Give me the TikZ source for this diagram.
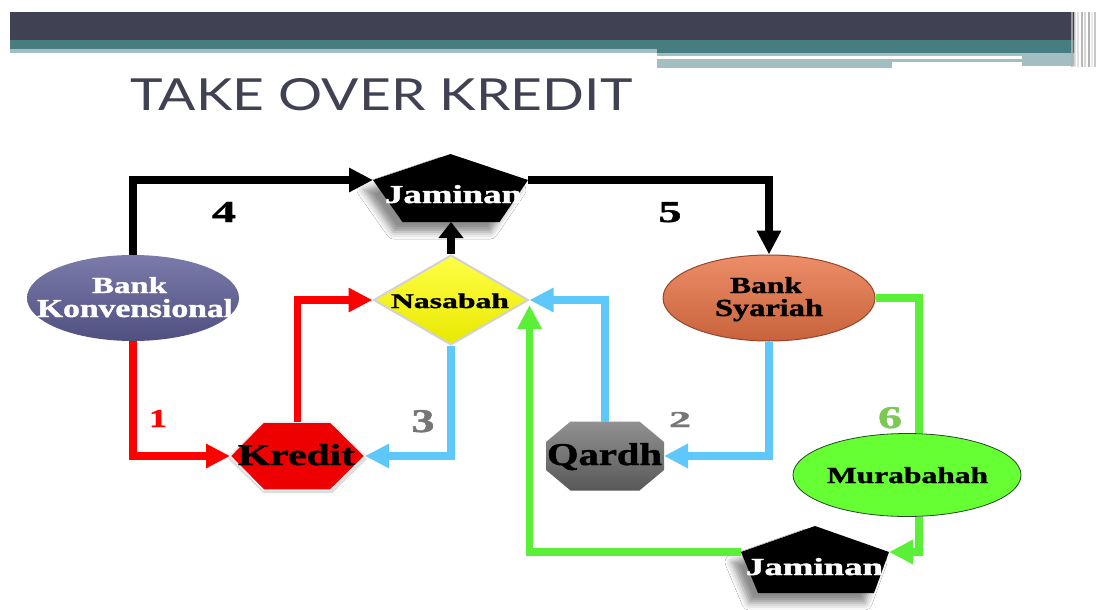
\documentclass[tikz,border=0pt]{standalone}
\usepackage{fontspec}
\setmainfont{Liberation Serif}
\newfontfamily\titlefont{Lato}
\newfontfamily\heavyserif{Liberation Serif Bold}[FakeBold=1.2]
\usetikzlibrary{arrows.meta,shapes.geometric,backgrounds,shadows.blur}
\definecolor{hdark}{RGB}{65,65,84}
\definecolor{hteal}{RGB}{70,125,128}
\definecolor{hlight}{RGB}{162,190,195}
\definecolor{bkTop}{RGB}{122,122,172}
\definecolor{bkBot}{RGB}{80,80,128}
\definecolor{bsTop}{RGB}{236,142,104}
\definecolor{bsBot}{RGB}{200,98,60}
\definecolor{bsEdge}{RGB}{150,70,40}
\definecolor{nasTop}{RGB}{255,255,70}
\definecolor{nasBot}{RGB}{232,232,0}
\definecolor{krRed}{RGB}{238,0,0}
\definecolor{qdTop}{RGB}{145,145,145}
\definecolor{qdBot}{RGB}{88,88,88}
\definecolor{murGreen}{RGB}{102,255,51}
\definecolor{murEdge}{RGB}{40,70,40}
\definecolor{lnRed}{RGB}{255,0,0}
\definecolor{lnBlue}{RGB}{95,200,250}
\definecolor{lnGreen}{RGB}{90,240,55}
\definecolor{numGray}{RGB}{118,118,118}
\definecolor{numGreen}{RGB}{125,200,85}
% word set in heavy serif, stretched to a given width and height
\newcommand\fitword[3]{\resizebox{#1pt}{#2pt}{\heavyserif #3}}
\begin{document}
\begin{tikzpicture}[x=1pt,y=-1pt,
  conn/.style={line width=7.5pt},
  tipbig/.style={-{Triangle[length=24pt,width=23pt]}},
  tipsmall/.style={-{Triangle[length=16pt,width=24pt]}},
  boxnode/.style={rectangle,inner sep=0pt,outer sep=0pt},
  txt/.style={inner sep=0pt,outer sep=0pt,anchor=base},
  pshadow/.style={blur shadow={shadow xshift=-9pt,shadow yshift=-10pt,shadow blur radius=7pt,shadow opacity=45}}]
\useasboundingbox (0,0) rectangle (1097,610);

% ---------- header ----------
\fill[hdark] (10,12) rectangle (1075,40);
\fill[hteal] (10,40) rectangle (1075,49);
\fill[hlight] (10,49) rectangle (657,53);
\fill[hteal] (657,49) rectangle (1075,53);
\fill[hlight] (657,53) rectangle (1075,66);
\fill[white] (657,56) rectangle (1022,59);
\fill[hlight] (657,59) rectangle (892,68);
\fill[white] (892,62) rectangle (1022,68);
\foreach \xx/\ww/\cc in {1072/2/gray!60,1075/1.5/gray!30,1078/2/white!70!gray,1082/1.5/gray!70,1085/2.5/gray!40,1089/1.5/gray!75,1092/2/white!80!gray,1095/1.5/gray!55}
  \draw[line width=\ww pt,\cc,opacity=0.8] (\xx,12) -- (\xx,67);

% ---------- title ----------
\node[anchor=base west,inner sep=0pt,text=hdark] (title) at (130,110)
  {\resizebox{502pt}{32pt}{\titlefont TAKE OVER KREDIT}};

% ---------- node shapes ----------
\node[ellipse,minimum width=212pt,minimum height=86pt,inner sep=0pt,
      top color=bkTop,bottom color=bkBot,draw=none] (bk) at (133,298) {};
\node[diamond,minimum width=155pt,minimum height=90pt,aspect=1.7,inner sep=0pt,
      top color=nasTop,bottom color=nasBot,draw=gray!35,line width=2pt] (nas) at (451,300) {};
\node[ellipse,minimum width=212pt,minimum height=86pt,inner sep=0pt,
      top color=bsTop,bottom color=bsBot,draw=bsEdge,line width=1pt] (bs) at (769,298) {};
\node[boxnode,minimum width=135pt,minimum height=68pt] (kr) at (297.5,456) {};
\node[boxnode,minimum width=118pt,minimum height=69pt] (qd) at (605,456) {};
\node[ellipse,minimum width=228pt,minimum height=83pt,inner sep=0pt,
      fill=murGreen,draw=murEdge,line width=0.8pt] (mur) at (907,475) {};
\node[boxnode,minimum width=155pt,minimum height=68pt] (jamA) at (450.5,188) {};
\node[boxnode,minimum width=148pt,minimum height=67pt] (jamB) at (815,559.5) {};

% ---------- shapes drawn behind ----------
\begin{scope}[on background layer]
  \fill[white] (0,0) rectangle (1097,610);
  \fill[black,pshadow] (jamA.north) -- ([yshift=8pt]jamA.east) -- ([xshift=49pt]jamA.south)
     -- ([xshift=-48pt]jamA.south) -- ([yshift=8pt]jamA.west) -- cycle;
  \fill[black,pshadow] (jamB.north) -- ([yshift=7.5pt]jamB.east) -- ([xshift=59pt]jamB.south)
     -- ([xshift=-57pt]jamB.south) -- ([yshift=7.5pt]jamB.west) -- cycle;
  \fill[gray!50,opacity=0.5] ([xshift=-2pt,yshift=-3pt]kr.west) -- ([xshift=-34pt,yshift=-3pt]kr.north)
     -- ([xshift=35pt,yshift=-3pt]kr.north) -- ([xshift=2pt,yshift=-3pt]kr.east)
     -- ([xshift=35pt,yshift=-3pt]kr.south) -- ([xshift=-34pt,yshift=-3pt]kr.south) -- cycle;
  \filldraw[fill=krRed,draw=gray!15,line width=1.5pt] (kr.west) -- ([xshift=-34pt]kr.north)
     -- ([xshift=33pt]kr.north) -- (kr.east) -- ([xshift=33pt]kr.south)
     -- ([xshift=-34pt]kr.south) -- cycle;
  \shade[top color=qdTop,bottom color=qdBot] ([xshift=-34.5pt]qd.north) -- ([xshift=34.5pt]qd.north)
     -- ([yshift=14pt]qd.east) -- ([yshift=-14pt]qd.east) -- ([xshift=34.5pt]qd.south)
     -- ([xshift=-34.5pt]qd.south) -- ([yshift=-14pt]qd.west) -- ([yshift=14pt]qd.west) -- cycle;
\end{scope}

% ---------- texts ----------
\node[txt,text=white] (bkA) at (129.5,293) {\fitword{75}{16}{Bank}};
\node[txt,text=white] (bkB) at (135,317) {\fitword{196}{18}{Konvensional}};
\node[txt] (nasT) at (450,308) {\fitword{118}{14.5}{Nasabah}};
\node[txt] (bsA) at (766,293) {\fitword{72}{16}{Bank}};
\node[txt] (bsB) at (769,316) {\fitword{108}{17}{Syariah}};
\node[txt] (krT) at (296.5,465) {\fitword{117}{21}{Kredit}};
\node[txt] (qdT) at (604.5,465) {\fitword{115}{22}{Qardh}};
\node[txt] (murT) at (907.5,483) {\fitword{161}{16}{Murabahah}};
\node[txt,text=white] (jamAT) at (453.5,203) {\fitword{137}{18}{Jaminan}};
\node[txt,text=white] (jamBT) at (814.5,575) {\fitword{137}{17}{Jaminan}};

% ---------- connectors ----------
\draw[conn,lnRed,tipbig] (bk.south) |- (kr.west);
\draw[conn,lnRed,tipbig] (kr.north) |- (nas.west);
\draw[conn,lnBlue,tipbig] (nas.south) |- (kr.east);
\draw[conn,black,tipbig] (bk.north) |- ([yshift=8pt]jamA.west);
\draw[conn,black,tipsmall] (nas.north) -- (nas.north |- jamA.south);
\draw[conn,black,tipbig] ([yshift=8pt]jamA.east) -| (bs.north);
\draw[conn,lnBlue,tipbig] (bs.south) |- (qd.east);
\draw[conn,lnBlue,tipbig] (qd.north) |- (nas.east);
\draw[conn,lnGreen,tipbig] ([yshift=7.5pt]jamB.west) -| ([yshift=-5pt]nas.east);
\draw[conn,lnGreen] (bs.east) -| ([xshift=12pt]mur.north);
\draw[conn,lnGreen,tipbig] ([xshift=12pt]mur.south) |- ([yshift=7.5pt]jamB.east);

% ---------- step numbers ----------
\node[txt,text=lnRed] (n1) at (158,427) {\fitword{18}{17}{1}};
\node[txt,text=numGray] (n2) at (680,427) {\fitword{22}{15}{2}};
\node[txt,text=numGray] (n3) at (423,432) {\fitword{23}{22}{3}};
\node[txt,text=black] (n4) at (224,222) {\fitword{24}{20}{4}};
\node[txt,text=black] (n5) at (670,222) {\fitword{23}{20}{5}};
\node[txt,text=numGreen] (n6) at (890,428) {\fitword{24}{21}{6}};
\end{tikzpicture}
\end{document}
